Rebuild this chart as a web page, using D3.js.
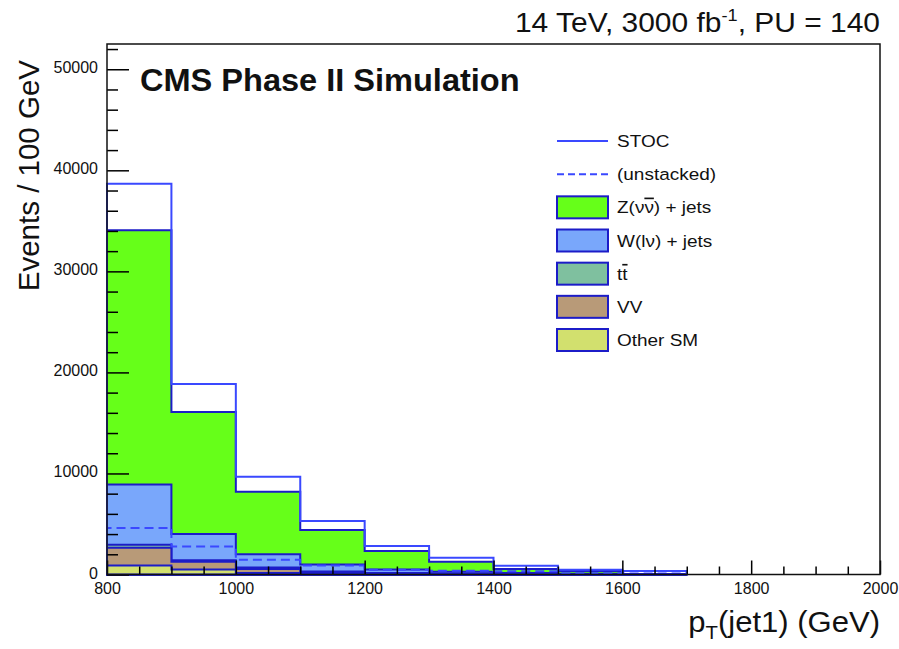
<!DOCTYPE html>
<html>
<head>
<meta charset="utf-8">
<script src="https://cdn.jsdelivr.net/npm/d3@7"></script>
<style>
  body { margin: 0; background: #fff; }
  svg { display: block; font-family: "Liberation Sans", Arial, Helvetica, sans-serif; }
</style>
</head>
<body>
<svg id="chart"></svg>
<script>
// bins of 100 GeV, lower edges
const binLow = [800, 900, 1000, 1100, 1200, 1300, 1400, 1500, 1600]
const binWidth = 100

// backgrounds, events / 100 GeV (stacked bottom -> top: other, vv, tt, w, z)
const otherSM = [900, 500, 150, 80, 40, 20, 10, 5, 0]
const vv      = [1750, 750, 400, 170, 80, 40, 20, 10, 0]
const ttbar   = [300, 150, 150, 50, 30, 15, 10, 5, 0]
const wJets   = [5950, 2600, 1300, 700, 350, 200, 120, 60, 20]
const zJets   = [25170, 12075, 6200, 3410, 1830, 995, 385, 270, 20]
// signal
const stoc    = [4600, 2780, 1470, 880, 480, 380, 320, 130, 300]

const xMajor = [800, 1000, 1200, 1400, 1600, 1800, 2000]
const xMinor = d3.range(850, 2000, 50).filter(v => v % 200 !== 0)
const yMajor = [0, 10000, 20000, 30000, 40000, 50000]
const yMinor = d3.range(2000, 52001, 2000).filter(v => v % 10000 !== 0)

const legendLabels = ['STOC', '(unstacked)', 'Z', 'W', 'tt', 'VV', 'Other SM']

const width = 899
const height = 649
const margin = { top: 44, right: 19, bottom: 74.5, left: 107 }

const colors = {
  z: '#66ff19',
  w: '#79a7fb',
  tt: '#7fc09f',
  vv: '#b89a78',
  other: '#d2e06e'
}
const border = '#1c1cc8'
const stocColor = '#3a48ff'

const svg = d3.select('#chart')
  .attr('width', width)
  .attr('height', height)

const x = d3.scaleLinear()
  .domain([800, 2000])
  .range([margin.left, width - margin.right])

const y = d3.scaleLinear()
  .domain([0, 52500])
  .range([height - margin.bottom, margin.top])

// histogram outline as step points, closed down to zero at both ends
function stepPoints (values) {
  const pts = [[binLow[0], 0]]
  values.forEach((v, i) => {
    pts.push([binLow[i], v])
    pts.push([binLow[i] + binWidth, v])
  })
  pts.push([binLow[binLow.length - 1] + binWidth, 0])
  return pts
}

const line = d3.line()
  .x(d => x(d[0]))
  .y(d => y(d[1]))

const rows = binLow.map((b, i) => ({
  low: b, other: otherSM[i], vv: vv[i], tt: ttbar[i], w: wJets[i], z: zJets[i]
}))
const keys = ['other', 'vv', 'tt', 'w', 'z']
const stacked = d3.stack().keys(keys)(rows)

// draw ROOT-style: top layer first, each filled from zero
const plot = svg.append('g')
stacked.slice().reverse().forEach(layer => {
  const tops = layer.map(d => d[1])
  plot.append('path')
    .attr('d', line(stepPoints(tops)) + 'Z')
    .attr('fill', colors[layer.key])
    .attr('stroke', border)
    .attr('stroke-width', 2)
})

const bgTotal = stacked[stacked.length - 1].map(d => d[1])
const stocStacked = stoc.map((v, i) => v + bgTotal[i])

plot.append('path')
  .attr('d', line(stepPoints(stocStacked)))
  .attr('fill', 'none')
  .attr('stroke', stocColor)
  .attr('stroke-width', 2)

plot.append('path')
  .attr('d', line(stepPoints(stoc)))
  .attr('fill', 'none')
  .attr('stroke', stocColor)
  .attr('stroke-width', 2)
  .attr('stroke-dasharray', '9,5')

// axes (ticks inside the frame)
const axes = svg.append('g')
  .style('font-family', '"Liberation Sans", Arial, sans-serif')

axes.append('g')
  .attr('transform', `translate(${margin.left},0)`)
  .call(d3.axisLeft(y).tickValues(yMajor).tickSize(-22).tickPadding(9).tickFormat(d3.format('d')))
  .call(g => g.select('.domain').remove())
  .call(g => g.selectAll('line').attr('stroke', '#000').attr('stroke-width', 1.5))
  .call(g => g.selectAll('text').attr('font-size', 16).attr('fill', '#111').attr('dy', '0.22em'))

axes.append('g')
  .attr('transform', `translate(${margin.left},0)`)
  .call(d3.axisLeft(y).tickValues(yMinor).tickSize(-11).tickFormat(''))
  .call(g => g.select('.domain').remove())
  .call(g => g.selectAll('line').attr('stroke', '#000').attr('stroke-width', 1.5))

axes.append('g')
  .attr('transform', `translate(0,${height - margin.bottom})`)
  .call(d3.axisBottom(x).tickValues(xMajor).tickSize(-14).tickPadding(8).tickFormat(d3.format('d')))
  .call(g => g.select('.domain').remove())
  .call(g => g.selectAll('line').attr('stroke', '#000').attr('stroke-width', 1.5))
  .call(g => g.selectAll('text').attr('font-size', 16).attr('fill', '#111'))

axes.append('g')
  .attr('transform', `translate(0,${height - margin.bottom})`)
  .call(d3.axisBottom(x).tickValues(xMinor).tickSize(-8).tickFormat(''))
  .call(g => g.select('.domain').remove())
  .call(g => g.selectAll('line').attr('stroke', '#000').attr('stroke-width', 1.5))

// frame
svg.append('rect')
  .attr('x', margin.left)
  .attr('y', margin.top)
  .attr('width', width - margin.left - margin.right)
  .attr('height', height - margin.top - margin.bottom)
  .attr('fill', 'none')
  .attr('stroke', '#111')
  .attr('stroke-width', 1.5)

// axis titles
svg.append('text')
  .attr('transform', `translate(39,${margin.top + 16}) rotate(-90)`)
  .attr('text-anchor', 'end')
  .attr('font-size', 29.5)
  .attr('fill', '#111')
  .text('Events / 100 GeV')

const xt = svg.append('text')
  .attr('transform', `translate(${width - margin.right},632) scale(1.07,1)`)
  .attr('text-anchor', 'end')
  .attr('font-size', 29)
  .attr('fill', '#111')
xt.append('tspan').text('p')
xt.append('tspan').attr('font-size', 19).attr('dy', 7).text('T')
xt.append('tspan').attr('dy', -7).text('(jet1) (GeV)')

// header texts
const headerText = svg.append('text')
  .attr('transform', `translate(${width - margin.right},32) scale(1.07,1)`)
  .attr('text-anchor', 'end')
  .attr('font-size', 28)
  .attr('fill', '#111')
headerText.append('tspan').text('14 TeV, 3000 fb')
headerText.append('tspan').attr('font-size', 17).attr('dy', -11).text('-1')
headerText.append('tspan').attr('dy', 11).text(', PU = 140')

svg.append('text')
  .attr('transform', 'translate(140,91) scale(1.05,1)')
  .attr('font-size', 31)
  .attr('font-weight', 'bold')
  .attr('fill', '#111')
  .text('CMS Phase II Simulation')

// legend
const legend = svg.append('g')
const ly = d3.scalePoint().domain(legendLabels).range([141, 340])
const boxX = 557
const boxW = 51
const textX = 617

legend.append('line')
  .attr('x1', boxX).attr('x2', boxX + boxW)
  .attr('y1', ly('STOC')).attr('y2', ly('STOC'))
  .attr('stroke', stocColor).attr('stroke-width', 2)

legend.append('line')
  .attr('x1', boxX).attr('x2', boxX + boxW)
  .attr('y1', ly('(unstacked)')).attr('y2', ly('(unstacked)'))
  .attr('stroke', stocColor).attr('stroke-width', 2)
  .attr('stroke-dasharray', '7,4')

const boxKeys = { Z: 'z', W: 'w', tt: 'tt', VV: 'vv', 'Other SM': 'other' }
Object.keys(boxKeys).forEach(k => {
  legend.append('rect')
    .attr('x', boxX)
    .attr('y', ly(k) - 11)
    .attr('width', boxW)
    .attr('height', 22)
    .attr('fill', colors[boxKeys[k]])
    .attr('stroke', border)
    .attr('stroke-width', 2)
})

function legendText (label) {
  return legend.append('text')
    .attr('transform', `translate(${textX},${ly(label) + 6}) scale(1.15,1)`)
    .attr('font-size', 16.5)
    .attr('fill', '#111')
}

legendText('STOC').text('STOC')
legendText('(unstacked)').text('(unstacked)')
const zl = legendText('Z')
zl.append('tspan').text('Z(ν')
zl.append('tspan').attr('text-decoration', 'overline').text('ν')
zl.append('tspan').text(') + jets')
legendText('W').text('W(lν) + jets')
const tl = legendText('tt')
tl.append('tspan').text('t')
tl.append('tspan').attr('text-decoration', 'overline').text('t')
legendText('VV').text('VV')
legendText('Other SM').text('Other SM')
</script>
</body>
</html>
